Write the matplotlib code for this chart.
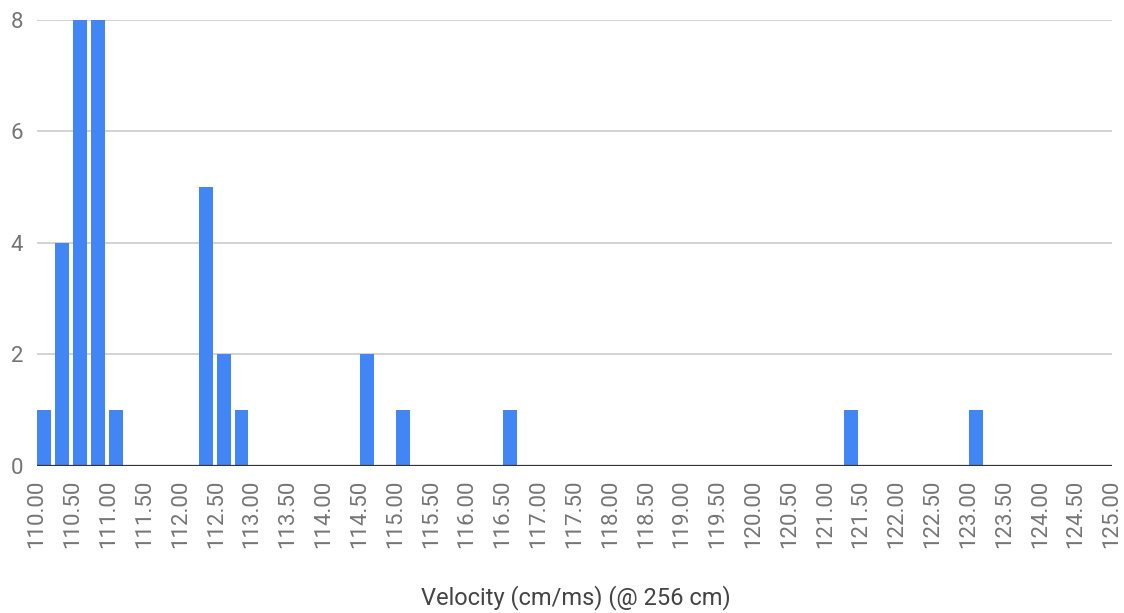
import matplotlib.pyplot as plt
import numpy as np

plt.rcParams['font.family'] = ['Roboto', 'DejaVu Sans']

# histogram bins (left edge, width 0.25) and counts
bin_left = [110.00, 110.25, 110.50, 110.75, 111.00, 112.25, 112.50, 112.75,
            114.50, 115.00, 116.50, 121.25, 123.00]
counts = [1, 4, 8, 8, 1, 5, 2, 1, 2, 1, 1, 1, 1]
bin_width = 0.25
x_ticks = np.arange(110.0, 125.01, 0.5)
y_ticks = [0, 2, 4, 6, 8]
x_label = "Velocity (cm/ms) (@ 256 cm)"

fig = plt.figure(figsize=(11.24, 6.13), dpi=100)
ax = fig.add_axes([0.033, 0.2398, 0.9563, 0.7276])

ax.bar(np.array(bin_left) + 0.005, counts, width=bin_width * 0.78,
       align='edge', color='#4285F4', linewidth=0, zorder=3)

ax.set_xlim(110, 125)
ax.set_ylim(0, 8)
ax.set_xticks(x_ticks)
ax.set_xticklabels(["%.2f" % t for t in x_ticks], rotation=90)
ax.set_yticks(y_ticks)
ax.tick_params(axis='both', length=0, labelsize=16, colors='#757575')
ax.tick_params(axis='x', pad=10)
ax.tick_params(axis='y', pad=10)

ax.grid(axis='y', color='#cccccc', linewidth=1.2, zorder=0)
ax.axhline(0, color='#333333', linewidth=1.6, zorder=4)
for s in ax.spines.values():
    s.set_visible(False)
ax.set_axisbelow(True)

fig.text(0.512, 0.005, x_label, ha='center', va='bottom',
         fontsize=17, color='#444444')

fig.savefig('out.png', dpi=100)
